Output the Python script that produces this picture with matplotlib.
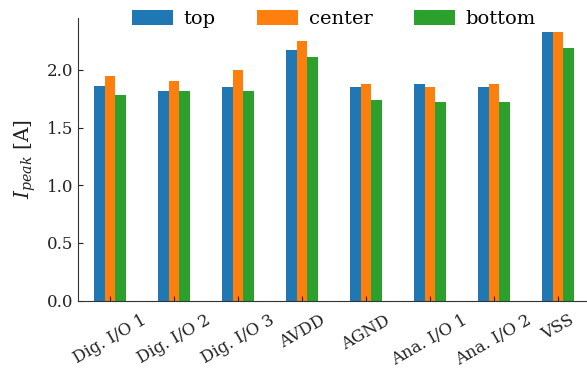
import matplotlib
matplotlib.use('Agg')

import numpy as np
import matplotlib.pyplot as plt

# Peak current per pin group, three die positions
pins = ['Dig. I/O 1', 'Dig. I/O 2', 'Dig. I/O 3', 'AVDD', 'AGND',
        'Ana. I/O 1', 'Ana. I/O 2', 'VSS']
top = [1.86, 1.82, 1.85, 2.17, 1.85, 1.88, 1.85, 2.33]
center = [1.95, 1.90, 2.00, 2.25, 1.88, 1.85, 1.88, 2.33]
bottom = [1.78, 1.82, 1.82, 2.11, 1.74, 1.72, 1.72, 2.19]

series = [('top', top, '#1f77b4'),
          ('center', center, '#ff7f0e'),
          ('bottom', bottom, '#2ca02c')]

plt.rcParams['font.family'] = 'DejaVu Serif'
plt.rcParams['mathtext.fontset'] = 'dejavuserif'

fig = plt.figure(figsize=(5.87, 3.73), dpi=100)
ax = fig.add_axes([0.133, 0.194, 0.872, 0.757])

x = np.arange(len(pins))
w = 0.5 / 3
for k, (name, vals, col) in enumerate(series):
    ax.bar(x + (k - 1) * w, vals, width=w, color=col, label=name)

ax.set_xlim(-0.5, len(pins) - 0.5)
ax.set_ylim(0, max(max(top), max(center), max(bottom)) * 1.05)
ax.set_yticks([0.0, 0.5, 1.0, 1.5, 2.0])
ax.set_xticks(x)
ax.set_xticklabels(pins, rotation=30, ha='center', fontsize=12)
ax.tick_params(axis='both', direction='in', labelsize=12, colors='#222222')
ax.tick_params(axis='x', pad=8)
ax.set_ylabel(r'$I_{peak}$ [A]', fontsize=14.5, color='#222222', labelpad=6)

for s in ['top', 'right']:
    ax.spines[s].set_visible(False)
for s in ['left', 'bottom']:
    ax.spines[s].set_color('#333333')

ax.legend(loc='center', bbox_to_anchor=(0.5, 0.998), ncol=3, frameon=False,
          fontsize=14, handletextpad=0.55, columnspacing=2.15,
          handleheight=0.85, handlelength=2.1)

fig.savefig('out.png', dpi=100)
